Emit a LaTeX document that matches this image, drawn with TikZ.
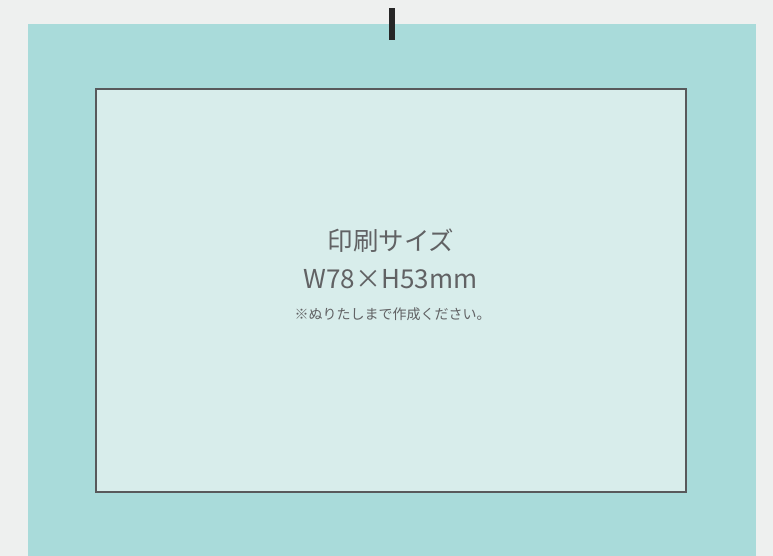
\documentclass[tikz,border=0pt]{standalone}
\usepackage{fontspec}
\setmainfont{Noto Sans CJK JP}
\definecolor{bgc}{HTML}{EEF0EF}
\definecolor{teal1}{HTML}{A9DBDA}
\definecolor{inner}{HTML}{D8EDEB}
\definecolor{edge}{HTML}{58595B}
\definecolor{txt}{HTML}{616264}
\begin{document}
\begin{tikzpicture}[x=1pt,y=-1pt,
  lbl/.style={inner sep=0pt,anchor=base,text=txt}]
\useasboundingbox (0,0) rectangle (773,556);
\fill[bgc] (0,0) rectangle (773,556);
\fill[teal1] (28,24) rectangle (756,556);
\node[draw=edge,line width=2pt,fill=inner,minimum width=590pt,minimum height=402pt,inner sep=0pt] (print) at (390.5,290.5) {};
\fill[black!85] (389,8) rectangle (395,40);
\node[lbl,font=\fontsize{25.5}{25.5}\selectfont] (t1) at (391,250) {印刷サイズ};
\node[lbl,font=\fontsize{26}{26}\selectfont] (t2) at (390.5,288) {W78×H53mm};
\node[lbl,font=\fontsize{14}{14}\selectfont] (t3) at (392.5,319) {※ぬりたしまで作成ください。};
\end{tikzpicture}
\end{document}
